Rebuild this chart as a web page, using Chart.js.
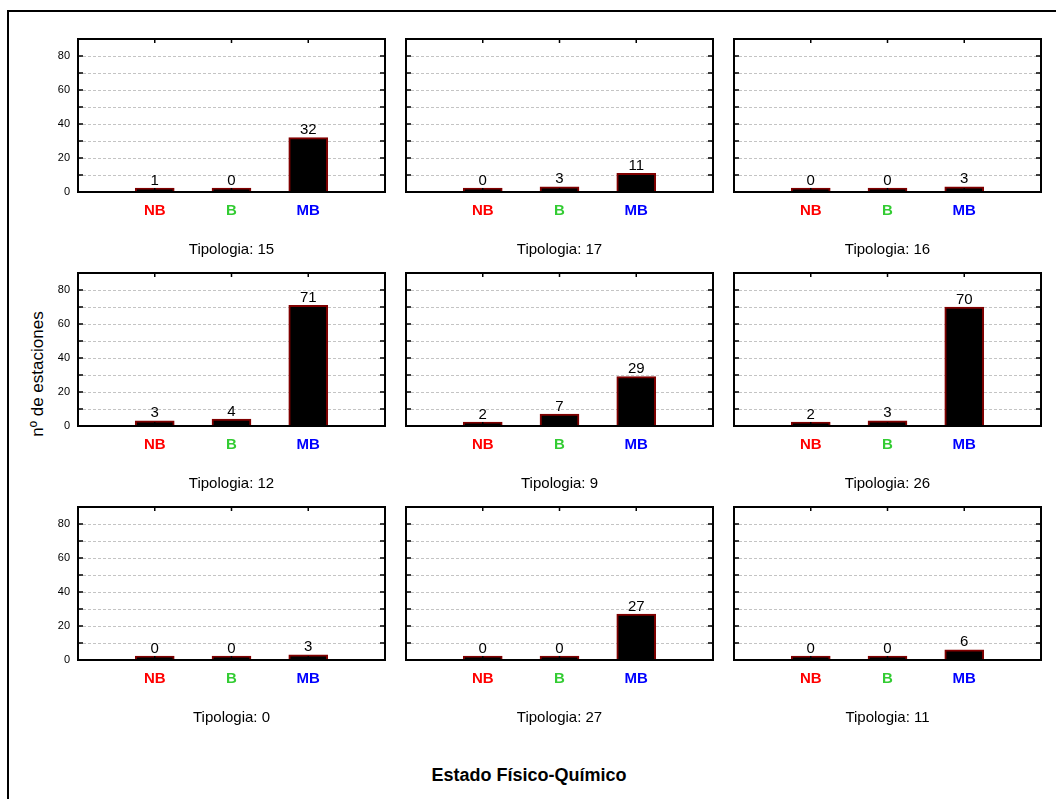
<!DOCTYPE html>
<html>
<head>
<meta charset="utf-8">
<script src="https://cdn.jsdelivr.net/npm/chart.js@4.4.1/dist/chart.umd.min.js"></script>
<style>
  body { margin: 0; background: #fff; font-family: "Liberation Sans", Arial, sans-serif; }
  #page { position: relative; width: 1056px; height: 799px; overflow: hidden; }
  #frame { position: absolute; left: 7px; top: 10px; width: 1200px; height: 900px; border-left: 2px solid #000; border-top: 2px solid #000; }
  .panel { position: absolute; }
  #ytitle { position: absolute; left: 38px; top: 374px; transform: translate(-50%, -50%) rotate(-90deg); font-size: 17px; white-space: nowrap; color: #000; }
  #xtitle { position: absolute; left: 529px; top: 775px; transform: translate(-50%, -50%); font-size: 18px; font-weight: bold; white-space: nowrap; color: #000; }
</style>
</head>
<body>
<div id="page">
  <div id="frame"></div>
  <div id="ytitle">nº de estaciones</div>
  <div id="xtitle">Estado Físico-Químico</div>
</div>
<script>
// data, one panel per tipologia (row by row)
const categories = ['NB', 'B', 'MB'];
const tipologias = ['15', '17', '16', '12', '9', '26', '0', '27', '11'];
const countNB = [1, 0, 0, 3, 2, 2, 0, 0, 0];
const countB = [0, 3, 0, 4, 7, 3, 0, 0, 0];
const countMB = [32, 11, 3, 71, 29, 70, 3, 27, 6];
const yMax = 90;
const yStep = 10;
const yLabelStep = 20;

// look & layout
const catColors = ['#ff0000', '#33cc33', '#0000ff'];
const colLeft = [78, 406, 734];
const rowTop = [39, 273, 507];
const plotW = 307, plotH = 153;
const padTop = 10, padRight = 6, yAxisW = 44, xAxisH = 72;

Chart.defaults.font.family = '"Liberation Sans", Arial, sans-serif';
Chart.defaults.color = '#000';

// box around the plot + small inward tick marks
const framePlugin = {
  id: 'frame',
  afterDatasetsDraw(chart) {
    const { ctx, chartArea: a, scales } = chart;
    ctx.save();
    ctx.strokeStyle = '#000';
    ctx.lineWidth = 1.5;
    ctx.beginPath();
    scales.y.ticks.forEach(t => {
      const py = scales.y.getPixelForValue(t.value);
      ctx.moveTo(a.left, py); ctx.lineTo(a.left + 5, py);
      ctx.moveTo(a.right - 5, py); ctx.lineTo(a.right, py);
    });
    scales.x.ticks.forEach((t, i) => {
      if (!scales.x.getLabelForValue(t.value)) return;
      const px = scales.x.getPixelForTick(i);
      ctx.moveTo(px, a.top); ctx.lineTo(px, a.top + 4);
      ctx.moveTo(px, a.bottom); ctx.lineTo(px, a.bottom - 4);
    });
    ctx.stroke();
    ctx.lineWidth = 2;
    ctx.strokeRect(a.left, a.top, a.right - a.left, a.bottom - a.top);
    ctx.restore();
  }
};

// numbers above bars
const valuePlugin = {
  id: 'values',
  afterDatasetsDraw(chart) {
    const { ctx } = chart;
    ctx.save();
    ctx.font = '15px "Liberation Sans", Arial, sans-serif';
    ctx.fillStyle = '#000';
    ctx.textAlign = 'center';
    ctx.textBaseline = 'alphabetic';
    chart.data.datasets.forEach((ds, di) => {
      chart.getDatasetMeta(di).data.forEach((el, i) => {
        const v = ds.data[i];
        if (v === null || v === undefined) return;
        ctx.fillText(String(v), el.x, el.y - 3.5);
      });
    });
    ctx.restore();
  }
};

const page = document.getElementById('page');

tipologias.forEach((tip, k) => {
  const row = Math.floor(k / 3), col = k % 3;
  const w = yAxisW + plotW + padRight;
  const h = padTop + plotH + xAxisH;
  const div = document.createElement('div');
  div.className = 'panel';
  div.style.left = (colLeft[col] - yAxisW) + 'px';
  div.style.top = (rowTop[row] - padTop) + 'px';
  div.style.width = w + 'px';
  div.style.height = h + 'px';
  const canvas = document.createElement('canvas');
  canvas.width = w;
  canvas.height = h;
  div.appendChild(canvas);
  page.appendChild(div);

  new Chart(canvas, {
    type: 'bar',
    data: {
      labels: ['', ...categories, ''],
      datasets: [{
        data: [null, countNB[k], countB[k], countMB[k], null],
        backgroundColor: '#000',
        borderColor: '#800000',
        borderWidth: 2,
        barThickness: 39,
        minBarLength: 4,
        clip: 0
      }]
    },
    options: {
      responsive: false,
      animation: false,
      layout: { padding: { top: padTop, right: padRight, left: 0, bottom: 0 } },
      plugins: { legend: { display: false }, tooltip: { enabled: false } },
      scales: {
        x: {
          type: 'category',
          offset: false,
          grid: { display: false, drawTicks: false },
          border: { display: false },
          ticks: {
            autoSkip: false,
            maxRotation: 0,
            padding: 10,
            font: { size: 15, weight: 'bold' },
            color: c => catColors[c.index - 1] || '#000'
          },
          title: {
            display: true,
            text: 'Tipologia: ' + tip,
            font: { size: 15 },
            color: '#000',
            padding: { top: 0, bottom: 5 }
          },
          afterFit: s => {
            s.height = xAxisH;
            s.paddingLeft = 0; s.paddingRight = 0;
          }
        },
        y: {
          min: 0,
          max: yMax,
          grid: { color: '#c4c4c4', lineWidth: 1, drawTicks: false },
          border: { display: false, dash: [3, 2] },
          ticks: {
            display: col === 0,
            stepSize: yStep,
            padding: 8,
            font: { size: 11 },
            color: '#000',
            callback: v => (v % yLabelStep === 0 ? v : '')
          },
          afterFit: s => {
            s.width = yAxisW;
            s.paddingTop = 0; s.paddingBottom = 0;
          }
        }
      }
    },
    plugins: [framePlugin, valuePlugin]
  });
});
</script>
</body>
</html>
